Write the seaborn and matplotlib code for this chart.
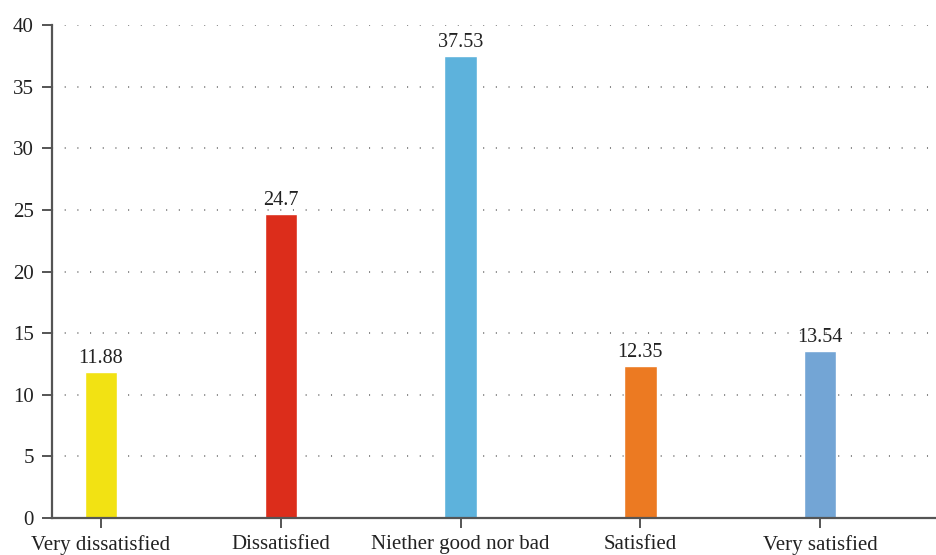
import matplotlib
matplotlib.use("Agg")
import matplotlib.pyplot as plt
import seaborn as sns
import pandas as pd

categories = ["Very dissatisfied", "Dissatisfied", "Niether good nor bad", "Satisfied", "Very satisfied"]
values = [11.88, 24.7, 37.53, 12.35, 13.54]
value_labels = ["11.88", "24.7", "37.53", "12.35", "13.54"]
colors = ["#F2E213", "#DC2D1B", "#5DB2DC", "#EC7A22", "#73A5D5"]
yticks = [0, 5, 10, 15, 20, 25, 30, 35, 40]

sns.set_theme(style="white")
plt.rcParams["font.family"] = ["Liberation Serif", "DejaVu Serif"]

df = pd.DataFrame({"category": categories, "value": values})

fig = plt.figure(figsize=(9.36, 5.55), dpi=100)
ax = fig.add_axes([0.0556, 0.0667, 0.9444, 0.888])

sns.barplot(data=df, x="category", y="value", hue="category", palette=colors,
            width=0.18, legend=False, ax=ax, saturation=1)

for i, (v, lab) in enumerate(zip(values, value_labels)):
    ax.text(i, v + 0.3, lab, ha="center", va="bottom", fontsize=14.5, color="#222222")

ax.set_ylim(0, 40)
ax.set_xlim(-0.272, 4.644)
ax.set_yticks(yticks)
ax.set_yticklabels([str(t) for t in yticks])
ax.set_xlabel("")
ax.set_ylabel("")

ax.yaxis.grid(True, color="#666666", linestyle=(0, (0.7, 7.6)), linewidth=1.1)
ax.set_axisbelow(True)

for side in ["top", "right"]:
    ax.spines[side].set_visible(False)
for side in ["left", "bottom"]:
    ax.spines[side].set_color("#555555")
    ax.spines[side].set_linewidth(1.6)

ax.tick_params(axis="y", which="both", left=True, length=7, width=1.4, color="#555555",
               labelsize=15, labelcolor="#222222", pad=6)
ax.tick_params(axis="x", which="both", bottom=True, length=7, width=1.4, color="#555555",
               labelsize=15, labelcolor="#222222", pad=5)

fig.savefig("out.png", dpi=100)
